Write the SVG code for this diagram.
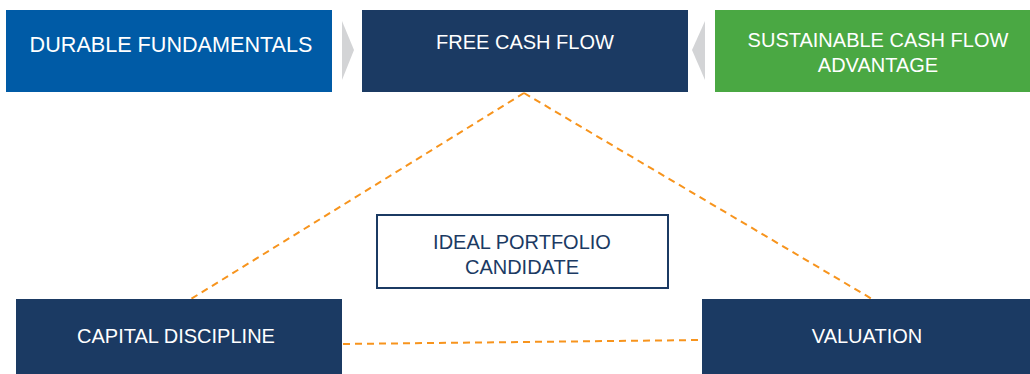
<svg xmlns="http://www.w3.org/2000/svg" width="1030" height="374" viewBox="0 0 1030 374">
<style>
.lbl{font-family:"Liberation Sans",Arial,sans-serif;font-size:20px;text-anchor:middle;fill:#ffffff}
.dk{fill:#1b3a63}
.conn{stroke:#f7941d;stroke-width:2;stroke-dasharray:7,5;fill:none}
.chev{fill:#d3d4d6}
</style>
<rect width="1030" height="374" fill="#ffffff"/>
<g id="connectors">
<line class="conn" x1="524" y1="93" x2="191" y2="299"/>
<line class="conn" x1="524" y1="93" x2="872" y2="299"/>
<line class="conn" x1="343" y1="344" x2="702" y2="340"/>
</g>
<g id="chevrons">
<polygon class="chev" points="342,21 354,50 342,80"/>
<polygon class="chev" points="705,21 692,50 705,80"/>
</g>
<g id="durable">
<rect x="6" y="10" width="326" height="82" fill="#005ba6"/>
<text class="lbl" x="171" y="52" style="font-size:21.6px">DURABLE FUNDAMENTALS</text>
</g>
<g id="fcf">
<rect x="362" y="10" width="326" height="82" fill="#1b3a63"/>
<text class="lbl" x="525" y="49">FREE CASH FLOW</text>
</g>
<g id="sustainable">
<rect x="715" y="10" width="315" height="82" fill="#4aa843"/>
<text class="lbl" x="878" y="47">SUSTAINABLE CASH FLOW</text>
<text class="lbl" x="878" y="72">ADVANTAGE</text>
</g>
<g id="ideal">
<rect x="377" y="215" width="291" height="73" fill="#ffffff" stroke="#1b3a63" stroke-width="2"/>
<text class="lbl dk" x="522" y="249">IDEAL PORTFOLIO</text>
<text class="lbl dk" x="522" y="274">CANDIDATE</text>
</g>
<g id="capital">
<rect x="16" y="299" width="326" height="75" fill="#1b3a63"/>
<text class="lbl" x="176" y="343">CAPITAL DISCIPLINE</text>
</g>
<g id="valuation">
<rect x="702" y="299" width="328" height="75" fill="#1b3a63"/>
<text class="lbl" x="867" y="343">VALUATION</text>
</g>
</svg>
